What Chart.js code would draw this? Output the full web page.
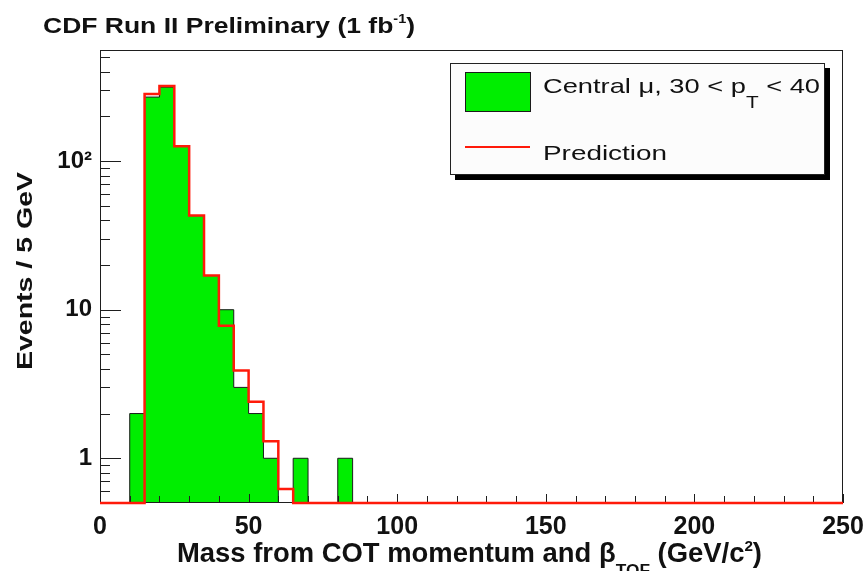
<!DOCTYPE html>
<html>
<head>
<meta charset="utf-8">
<title>CDF Run II - mass from COT momentum and TOF</title>
<script src="https://cdn.jsdelivr.net/npm/chart.js@4.4.1/dist/chart.umd.min.js"></script>
<style>
  html, body { margin: 0; padding: 0; background: #ffffff; }
  #wrap { width: 867px; height: 571px; }
</style>
</head>
<body>
<div id="wrap"><canvas id="chartCanvas" width="867" height="571"></canvas></div>
<script>
// Bin edges in GeV/c^2 (5 GeV bins; the last segment stays empty up to the axis end)
const binEdges = [0, 5, 10, 15, 20, 25, 30, 35, 40, 45, 50, 55, 60, 65, 70, 75, 80, 85, 90, 250];
// Events per bin, central muons with 30 < pT < 40
const observed = [0, 0, 2, 270, 315, 126, 43, 17, 10, 3, 2, 1, 0, 1, 0, 0, 1, 0, 0];
// Background prediction per bin
const predicted = [0, 0, 0, 283, 321, 126, 43, 17, 7.8, 3.9, 2.4, 1.3, 0.62, 0, 0, 0, 0, 0, 0];
// Axis labels
const xTicks = [0, 50, 100, 150, 200, 250];
const yTicks = [1, 10, 100];
const yTickLabels = ['1', '10', '10²'];

const Y_MIN = 0.5;
const Y_MAX = 560;
const FONT = "'Liberation Sans', Arial, Helvetica, sans-serif";

// histogram -> points at bin edges; empty bins sit on the axis floor like ROOT draws them
function toSteps(values) {
  return binEdges.map((x, i) => ({
    x: x,
    y: Math.max(values[Math.min(i, values.length - 1)], Y_MIN),
  }));
}

// draws text runs left to right, squeezed/stretched to a given width
function drawRuns(ctx, runs, x, y, width) {
  let natural = 0;
  runs.forEach(r => { ctx.font = r.font; natural += ctx.measureText(r.text).width; });
  const sx = width ? width / natural : 1;
  ctx.save();
  ctx.translate(x, y);
  ctx.scale(sx, 1);
  let cx = 0;
  runs.forEach(r => {
    ctx.font = r.font;
    ctx.fillText(r.text, cx, r.dy || 0);
    cx += ctx.measureText(r.text).width;
  });
  ctx.restore();
}

// frame and inward ticks, drawn over the filled histogram
const frameAndTicks = {
  id: 'frameAndTicks',
  afterDatasetDraw(chart, args) {
    if (args.index !== 0) return;
    const { ctx, chartArea: a, scales: { x, y } } = chart;
    ctx.save();
    ctx.strokeStyle = '#1e1e1e';
    ctx.lineWidth = 1;
    ctx.strokeRect(a.left + 0.5, a.top + 0.5, a.right - a.left - 1, a.bottom - a.top - 1);

    ctx.beginPath();
    for (let v = x.min; v <= x.max; v += 10) {
      const px = Math.round(x.getPixelForValue(v)) + 0.5;
      const len = v % 50 === 0 ? 9 : 7;
      ctx.moveTo(px, a.bottom);
      ctx.lineTo(px, a.bottom - len);
    }
    const e0 = Math.floor(Math.log10(y.min));
    const e1 = Math.ceil(Math.log10(y.max));
    for (let e = e0; e <= e1; e++) {
      for (let m = 1; m <= 9; m++) {
        const v = m * Math.pow(10, e);
        if (v < y.min || v > y.max) continue;
        const py = Math.round(y.getPixelForValue(v)) + 0.5;
        ctx.moveTo(a.left, py);
        ctx.lineTo(a.left + (m === 1 ? 21 : 10), py);
      }
    }
    ctx.stroke();
    ctx.restore();
  },
};

// header, axis titles and legend box
const annotations = {
  id: 'annotations',
  afterDraw(chart) {
    const ctx = chart.ctx;
    const ds = chart.data.datasets;
    ctx.save();
    ctx.fillStyle = '#111';
    ctx.textBaseline = 'alphabetic';

    drawRuns(ctx, [
      { text: 'CDF Run II Preliminary (1 fb', font: `bold 22px ${FONT}` },
      { text: '-1', font: `bold 12px ${FONT}`, dy: -10 },
      { text: ')', font: `bold 22px ${FONT}` },
    ], 43, 33, 372);

    drawRuns(ctx, [
      { text: 'Mass from COT momentum and β', font: `bold 27px ${FONT}` },
      { text: 'TOF', font: `bold 17px ${FONT}`, dy: 14 },
      { text: ' (GeV/c', font: `bold 27px ${FONT}` },
      { text: '2', font: `bold 15px ${FONT}`, dy: -11 },
      { text: ')', font: `bold 27px ${FONT}` },
    ], 177, 562, 585);

    ctx.save();
    ctx.translate(32, 370);
    ctx.rotate(-Math.PI / 2);
    drawRuns(ctx, [{ text: 'Events / 5 GeV', font: `bold 22px ${FONT}` }], 0, 0, 198);
    ctx.restore();

    // legend
    const box = { x: 450, y: 63, w: 375, h: 112 };
    ctx.fillStyle = '#000';
    ctx.fillRect(box.x + 5, box.y + 5, box.w, box.h);
    ctx.fillStyle = '#fcfcfc';
    ctx.fillRect(box.x, box.y, box.w, box.h);
    ctx.strokeStyle = '#222';
    ctx.lineWidth = 1;
    ctx.strokeRect(box.x + 0.5, box.y + 0.5, box.w - 1, box.h - 1);

    ctx.fillStyle = ds[0].backgroundColor;
    ctx.fillRect(465, 72, 66, 40);
    ctx.strokeStyle = ds[0].borderColor;
    ctx.strokeRect(465.5, 72.5, 65, 39);

    ctx.strokeStyle = ds[1].borderColor;
    ctx.lineWidth = 2;
    ctx.beginPath();
    ctx.moveTo(465, 147);
    ctx.lineTo(530, 147);
    ctx.stroke();

    ctx.fillStyle = '#111';
    const parts = ds[0].label.split('_');
    drawRuns(ctx, [
      { text: parts[0], font: `21px ${FONT}` },
      { text: parts[1].charAt(0), font: `16px ${FONT}`, dy: 15 },
      { text: parts[1].slice(1), font: `21px ${FONT}` },
    ], 543, 93, 277);
    drawRuns(ctx, [{ text: ds[1].label, font: `21px ${FONT}` }], 543, 160, 124);
    ctx.restore();
  },
};

const ctx = document.getElementById('chartCanvas').getContext('2d');
const chartInstance = new Chart(ctx, {
  type: 'line',
  data: {
    datasets: [
      {
        label: 'Central μ, 30 < p_T < 40',
        data: toSteps(observed),
        stepped: true,
        fill: 'start',
        backgroundColor: '#00ee00',
        borderColor: '#1b1b1b',
        borderWidth: 1,
        pointRadius: 0,
        order: 2,
      },
      {
        label: 'Prediction',
        data: toSteps(predicted),
        stepped: true,
        fill: false,
        borderColor: '#ff1a0a',
        borderWidth: 2.5,
        pointRadius: 0,
        clip: false,
        order: 1,
      },
    ],
  },
  options: {
    responsive: false,
    animation: false,
    layout: { padding: { top: 50, right: 24, left: 0, bottom: 0 } },
    plugins: {
      legend: { display: false },
      tooltip: { enabled: false },
      title: { display: false },
    },
    scales: {
      x: {
        type: 'linear',
        min: 0,
        max: 250,
        grid: { display: false, drawTicks: false },
        border: { display: false },
        ticks: {
          stepSize: 10,
          autoSkip: false,
          maxRotation: 0,
          padding: 9,
          color: '#111',
          font: { family: FONT, size: 25, weight: 'bold' },
          callback: v => (xTicks.includes(v) ? String(v) : ''),
        },
        afterFit: scale => {
          scale.height = 68;
          scale.paddingLeft = 0;
          scale.paddingRight = 0;
        },
      },
      y: {
        type: 'logarithmic',
        min: Y_MIN,
        max: Y_MAX,
        grid: { display: false, drawTicks: false },
        border: { display: false },
        ticks: {
          autoSkip: false,
          padding: 8,
          color: '#111',
          font: { family: FONT, size: 24, weight: 'bold' },
          callback: v => {
            const i = yTicks.indexOf(v);
            return i >= 0 ? yTickLabels[i] : '';
          },
        },
        afterFit: scale => {
          scale.width = 100;
          scale.paddingTop = 0;
          scale.paddingBottom = 0;
        },
      },
    },
  },
  plugins: [frameAndTicks, annotations],
});
</script>
</body>
</html>
